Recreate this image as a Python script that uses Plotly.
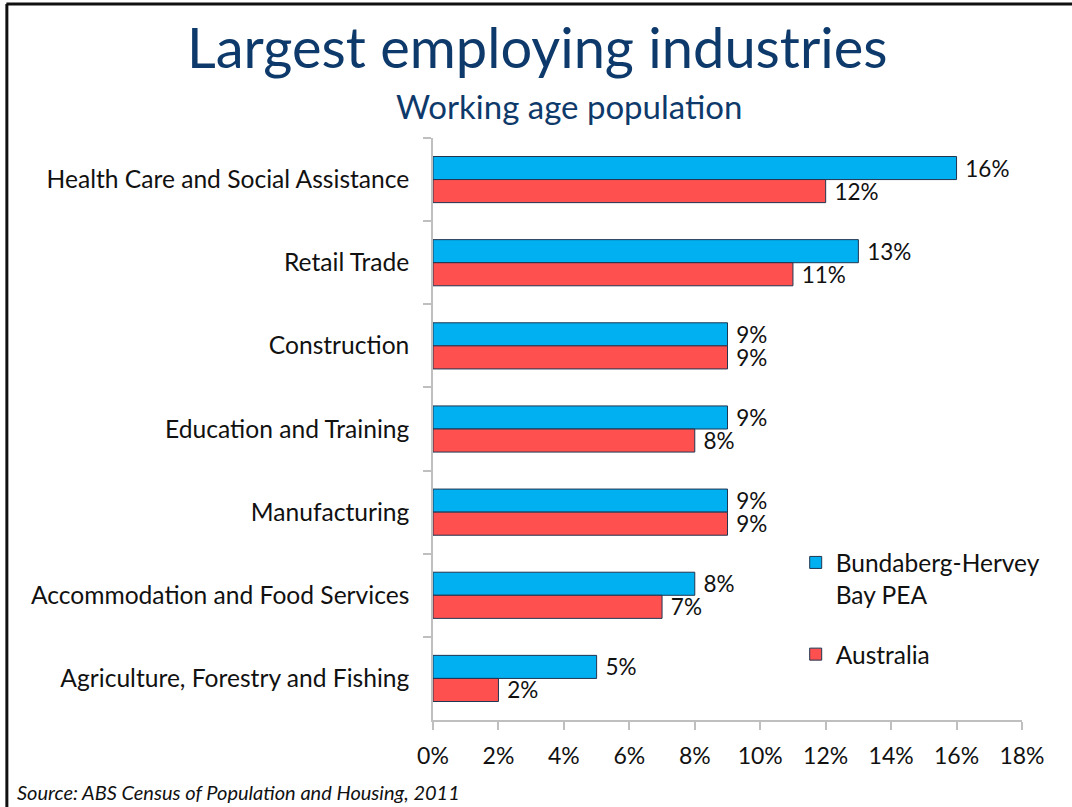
import plotly.graph_objects as go

categories = [
    "Health Care and Social Assistance",
    "Retail Trade",
    "Construction",
    "Education and Training",
    "Manufacturing",
    "Accommodation and Food Services",
    "Agriculture, Forestry and Fishing",
]
bundaberg = [16, 13, 9, 9, 9, 8, 5]
australia = [12, 11, 9, 8, 9, 7, 2]
series_names = ["Bundaberg-Hervey<br>Bay PEA", "Australia"]
x_ticks = [0, 2, 4, 6, 8, 10, 12, 14, 16, 18]
x_tick_labels = [f"{v}%" for v in x_ticks]

FONT = "Lato"
W, H = 1072, 807
L, R, T, B = 433, 49.5, 138, 87
pw = W - L - R
ph = H - T - B

fig = go.Figure()
for i, (name, vals, color) in enumerate([
    (series_names[0], bundaberg, "#00B0F0"),
    (series_names[1], australia, "#FF5050"),
]):
    fig.add_trace(go.Bar(
        y=categories, x=vals, name=name, orientation="h",
        legendgroup=f"g{i}",
        marker=dict(color=color, line=dict(color="#1F3550", width=1)),
        text=[f" {v}%" for v in vals], textposition="outside",
        constraintext="none",
        textfont=dict(family=FONT, size=22.5, color="#111111"),
        cliponaxis=False,
    ))

def px_x(px):
    return (px - L) / pw

def px_y(py):
    return (H - B - py) / ph

fig.update_layout(
    width=W, height=H,
    margin=dict(l=L, r=R, t=T, b=B),
    paper_bgcolor="white", plot_bgcolor="white",
    barmode="group", bargap=0.445, bargroupgap=0,
    font=dict(family=FONT, color="#111111"),
    showlegend=True,
    legend=dict(
        x=px_x(796), y=px_y(540), xanchor="left", yanchor="top",
        font=dict(family=FONT, size=24.5, color="#111111"),
        valign="top", traceorder="grouped", tracegroupgap=25, itemwidth=30,
        bgcolor="rgba(0,0,0,0)",
    ),
    xaxis=dict(
        range=[0, 18], tickvals=x_ticks, ticktext=x_tick_labels,
        showgrid=False, zeroline=False,
        showline=True, linecolor="#BFBFBF", linewidth=1.5,
        ticks="outside", ticklen=8, tickcolor="#BFBFBF", tickwidth=1.5,
        ticklabelstandoff=7,
        tickfont=dict(family=FONT, size=23, color="#111111"),
    ),
    yaxis=dict(
        autorange="reversed", showgrid=False, zeroline=False,
        showline=True, linecolor="#BFBFBF", linewidth=1.5,
        ticks="outside", ticklen=8, tickcolor="#BFBFBF", tickwidth=1.5,
        tickson="boundaries",
        tickfont=dict(family=FONT, size=24.6, color="#111111"),
        ticklabelstandoff=17,
    ),
    annotations=[
        dict(text="Largest employing industries", x=px_x(538), y=px_y(47),
             xref="paper", yref="paper", xanchor="center", yanchor="middle",
             showarrow=False,
             font=dict(family=FONT, size=56, color="#0E3A6B")),
        dict(text="Working age population", x=px_x(569), y=px_y(106),
             xref="paper", yref="paper", xanchor="center", yanchor="middle",
             showarrow=False,
             font=dict(family=FONT, size=33, color="#0E3A6B")),
        dict(text="<i>Source: ABS Census of Population and Housing, 2011</i>",
             x=px_x(15), y=px_y(792), xref="paper", yref="paper",
             xanchor="left", yanchor="middle", showarrow=False,
             font=dict(family=FONT, size=20, color="#111111")),
    ],
    shapes=[
        dict(type="line", xref="paper", yref="paper",
             x0=px_x(6), x1=px_x(1080), y0=px_y(4), y1=px_y(4),
             line=dict(color="#111111", width=3)),
        dict(type="line", xref="paper", yref="paper",
             x0=px_x(6.5), x1=px_x(6.5), y0=px_y(4), y1=px_y(820),
             line=dict(color="#111111", width=3)),
    ],
)

fig.write_html("out.html", config={"displayModeBar": False},
               post_script="document.body.style.margin='0';")
